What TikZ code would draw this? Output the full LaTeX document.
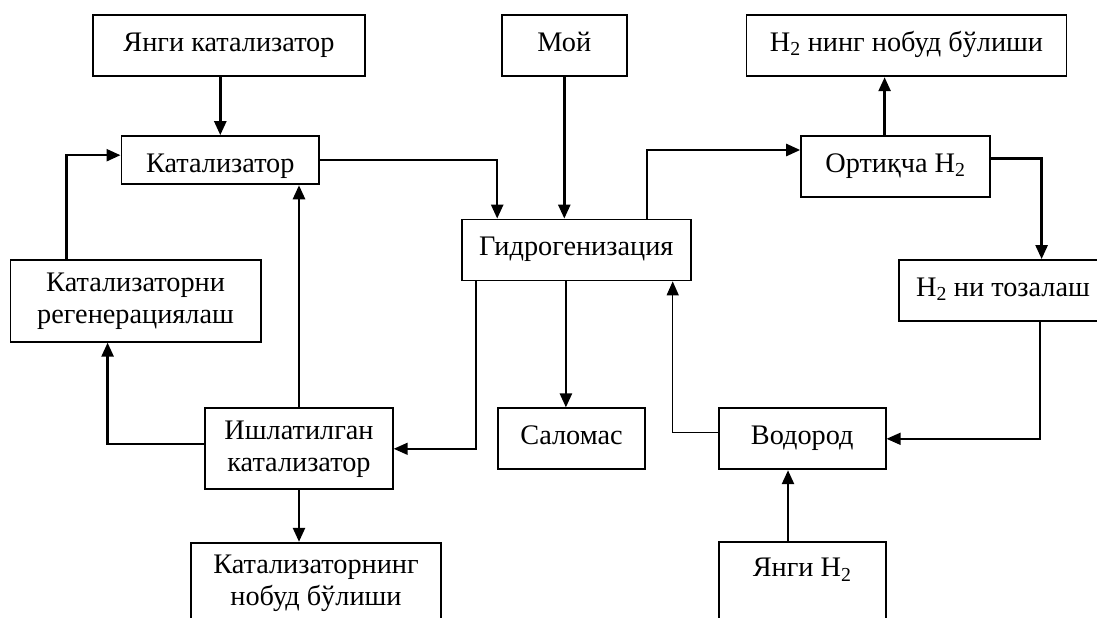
\documentclass[tikz,border=0pt]{standalone}
\usepackage{fontspec}
\setmainfont{Liberation Serif}
\usetikzlibrary{positioning, calc, arrows.meta}

\tikzset{
  block/.style={draw, rectangle, line width=1.8pt, inner sep=0pt, align=center,
    minimum height=61pt, font=\fontsize{28.3}{32}\selectfont},
  oneline/.style={block, text height=20pt, text depth=9pt},
  flow/.style={-{Triangle[length=14pt, width=12pt]}, line width=2.5pt},
  thinflow/.style={flow, line width=1.5pt},
}

\begin{document}
\begin{tikzpicture}[x=1pt, y=-1pt]
                \useasboundingbox (0, 0) rectangle (1097, 618);
                \clip (0, 0) rectangle (1097, 618);

                \node [oneline, minimum width=271.5pt] (yangikat) at (229, 45.8) {Янги катализатор};
                \node [oneline, minimum width=125.4pt] (moy) at (564.3, 45.8) {Мой};
                \node [oneline, minimum width=320pt] (h2nobud) at (906.5, 45.8) {H\textsubscript{2} нинг нобуд бўлиши};
                \node [oneline, minimum width=197.8pt, minimum height=48.3pt, text height=24pt, text depth=0pt] (katalizator) at (220.3, 160.2) {Катализатор};
                \node [oneline, minimum width=188.6pt] (ortiqcha) at (895.4, 166.7) {Ортиқча H\textsubscript{2}};
                \node [oneline, minimum width=229.4pt] (gidro) at (576.3, 250) {Гидрогенизация};
                \node [block, minimum width=250.1pt, minimum height=81.7pt] (regen) at (135.6, 300.9) {Катализаторни\\регенерациялаш};
                \node [oneline, minimum width=208pt] (tozalash) at (1003, 290.5) {H\textsubscript{2} ни тозалаш};
                \node [block, minimum width=187.6pt, minimum height=81pt] (ishlat) at (299, 448.8) {Ишлатилган\\катализатор};
                \node [oneline, minimum width=146.7pt] (salomas) at (571.5, 438.8) {Саломас};
                \node [oneline, minimum width=166.9pt] (vodorod) at (802.2, 438.8) {Водород};
                \node [block, minimum width=249.7pt, minimum height=82pt] (katnobud) at (316, 583.7) {Катализаторнинг\\нобуд бўлиши};
                \node [block, minimum width=166.9pt, minimum height=82pt] (yangih2) at (802.2, 583.3) {Янги H\textsubscript{2}\\\mbox{}};

                % catalyst side
                \draw [flow] (yangikat.south -| katalizator.north) -- (katalizator.north);
                \draw [flow] ($(regen.north west)+(57, 0)$) |- ($(katalizator.west)+(0, -5)$);
                \draw [flow] (ishlat.north) -- (ishlat.north |- katalizator.south);
                \draw [flow] ($(ishlat.west)+(0, -5)$) -| ($(regen.south)+(-28, 0)$);
                \draw [flow] (ishlat.south) -- (ishlat.south |- katnobud.north);
                \draw [flow] (katalizator.east) -| ($(gidro.north west)+(36.5, 0)$);

                % hydrogenation
                \draw [flow] (moy.south) -- (moy.south |- gidro.north);
                \draw [flow] ($(gidro.south)+(-10.4, 0)$) coordinate (g1) -- (g1 |- salomas.north);
                \draw [thinflow] ($(gidro.south west)+(15.4, 0)$) |- (ishlat.east);
                \draw [thinflow] ($(vodorod.west)+(0, -6.5)$) -| ($(gidro.south east)+(-19.2, 0)$);

                % hydrogen side
                \draw [flow] ($(gidro.north east)+(-45, 0)$) |- ($(ortiqcha.west)+(0, -16.7)$);
                \draw [flow] ($(ortiqcha.north)+(-10.8, 0)$) coordinate (o1) -- (o1 |- h2nobud.south);
                \draw [flow] ($(ortiqcha.east)+(0, -8.4)$) -| ($(tozalash.north)+(38.6, 0)$);
                \draw [thinflow] ($(tozalash.south)+(37, 0)$) |- (vodorod.east);
                \draw [flow] ($(yangih2.north)+(-14.2, 0)$) coordinate (y1) -- (y1 |- vodorod.south);
            \end{tikzpicture}
\end{document}
